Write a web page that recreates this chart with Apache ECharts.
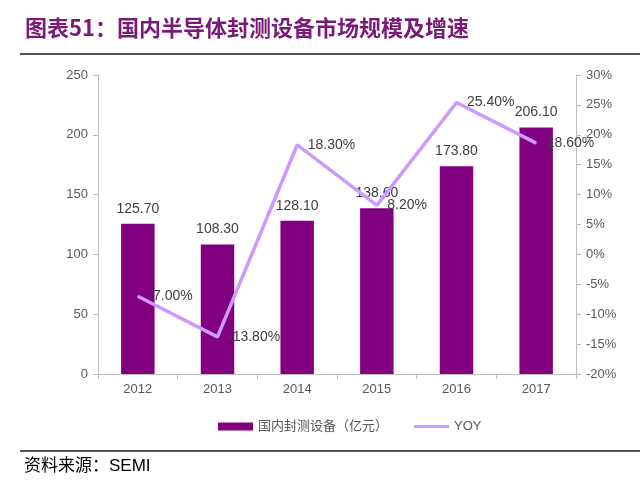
<!DOCTYPE html>
<html lang="zh">
<head>
    <meta charset="UTF-8" />
    <title>国内半导体封测设备市场规模及增速</title>
    <script src="https://cdn.jsdelivr.net/npm/echarts@6/dist/echarts.min.js"></script>
    <style>
        html, body { margin: 0; padding: 0; background: #fff; }
        #main { width: 640px; height: 488px; }
    </style>
</head>
<body>
<div id="main"></div>
<script type="text/javascript">
    var years = ['2012', '2013', '2014', '2015', '2016', '2017'];
    var marketSize = [125.7, 108.3, 128.1, 138.6, 173.8, 206.1];
    var yoy = [-7.0, -13.8, 18.3, 8.2, 25.4, 18.6];

    var myChart = echarts.init(document.getElementById('main'));
    var font = 'Arial, "Liberation Sans", "Noto Sans CJK SC", sans-serif';
    var cjk = '"Noto Sans CJK SC", sans-serif';

    var option = {
        backgroundColor: '#fff',
        textStyle: { fontFamily: font },
        title: {
            text: '图表51：国内半导体封测设备市场规模及增速',
            left: 20,
            top: 12,
            textStyle: { color: '#7a1a78', fontSize: 22, fontWeight: 'bold', fontFamily: cjk }
        },
        graphic: [
            { type: 'line', shape: { x1: 20, y1: 54, x2: 640, y2: 54 }, style: { stroke: '#555', lineWidth: 2 } },
            { type: 'line', shape: { x1: 20, y1: 451, x2: 640, y2: 451 }, style: { stroke: '#555', lineWidth: 2 } },
            { type: 'text', left: 24, top: 458, style: { text: '资料来源：SEMI', fill: '#000', fontSize: 17, fontFamily: font } }
        ],
        legend: {
            top: 415,
            left: 213,
            itemGap: 26,
            itemWidth: 35,
            itemHeight: 8,
            textStyle: { color: '#595959', fontSize: 13, fontFamily: font },
            data: [
                { name: '国内封测设备（亿元）', icon: 'rect' },
                { name: 'YOY', icon: 'path://M0,0h35v3h-35z' }
            ]
        },
        grid: { left: 98, right: 64, top: 75, bottom: 114 },
        xAxis: {
            type: 'category',
            data: years,
            axisLine: { lineStyle: { color: '#bfbfbf' } },
            axisTick: { show: true, lineStyle: { color: '#bfbfbf' } },
            axisLabel: { color: '#595959', fontSize: 13, margin: 9 }
        },
        yAxis: [
            {
                type: 'value',
                min: 0,
                max: 250,
                interval: 50,
                splitLine: { show: false },
                axisLine: { show: true, lineStyle: { color: '#bfbfbf' } },
                axisTick: { show: true, lineStyle: { color: '#bfbfbf' } },
                axisLabel: { color: '#595959', fontSize: 13, margin: 10 }
            },
            {
                type: 'value',
                min: -20,
                max: 30,
                interval: 5,
                splitLine: { show: false },
                axisLine: { show: true, lineStyle: { color: '#bfbfbf' } },
                axisTick: { show: true, lineStyle: { color: '#bfbfbf' } },
                axisLabel: { color: '#595959', fontSize: 13, margin: 10, formatter: '{value}%' }
            }
        ],
        series: [
            {
                name: '国内封测设备（亿元）',
                type: 'bar',
                data: marketSize,
                barWidth: '42%',
                itemStyle: { color: '#800080' },
                label: {
                    show: true,
                    position: 'top',
                    distance: 8,
                    color: '#404040',
                    fontSize: 14,
                    formatter: function (p) { return p.value.toFixed(2); }
                }
            },
            {
                name: 'YOY',
                type: 'line',
                yAxisIndex: 1,
                data: yoy,
                symbol: 'circle',
                symbolSize: 1,
                showSymbol: true,
                lineStyle: { color: '#cc99ff', width: 3.5 },
                itemStyle: { color: '#cc99ff' },
                label: {
                    show: true,
                    position: 'right',
                    distance: 10,
                    color: '#404040',
                    fontSize: 14,
                    formatter: function (p) { return p.value.toFixed(2) + '%'; }
                }
            }
        ]
    };
    myChart.setOption(option);
</script>
</body>
</html>
